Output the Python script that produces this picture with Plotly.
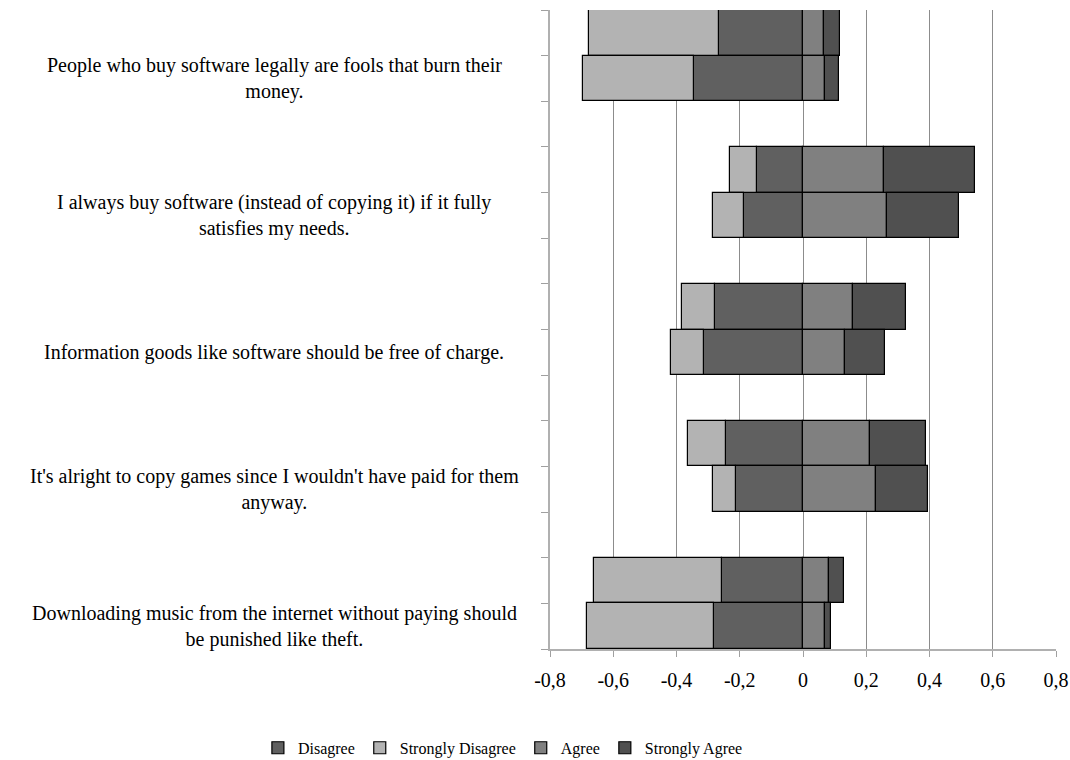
import plotly.graph_objects as go

# ---- data (top-to-bottom order of statements) ----
statements = [
    "People who buy software legally are fools that burn their<br>money.",
    "I always buy software (instead of copying it) if it fully<br>satisfies my needs.",
    "Information goods like software should be free of charge.",
    "It's alright to copy games since I wouldn't have paid for them<br>anyway.",
    "Downloading music from the internet without paying should<br>be punished like theft.",
]
series_names = ["Disagree", "Strongly Disagree", "Agree", "Strongly Agree"]

# upper bar of each pair
disagree_upper = [-0.266, -0.146, -0.277, -0.244, -0.255]
strongly_disagree_upper = [-0.410, -0.084, -0.105, -0.119, -0.406]
agree_upper = [0.065, 0.257, 0.158, 0.211, 0.082]
strongly_agree_upper = [0.053, 0.287, 0.168, 0.179, 0.047]

# lower (labelled) bar of each pair
disagree_lower = [-0.345, -0.186, -0.314, -0.213, -0.281]
strongly_disagree_lower = [-0.352, -0.100, -0.103, -0.073, -0.403]
agree_lower = [0.068, 0.266, 0.134, 0.231, 0.068]
strongly_agree_lower = [0.047, 0.226, 0.125, 0.165, 0.019]

x_tick_vals = [-0.8, -0.6, -0.4, -0.2, 0, 0.2, 0.4, 0.6, 0.8]
x_tick_text = ["-0,8", "-0,6", "-0,4", "-0,2", "0", "0,2", "0,4", "0,6", "0,8"]

colors = ["#606060", "#b3b3b3", "#808080", "#505050"]

# ---- category rows ----
upper_ids = [f"u{i}" for i in range(len(statements))]
lower_ids = [f"l{i}" for i in range(len(statements))]
rows_top_down = []
for i in range(len(statements)):
    rows_top_down += [upper_ids[i], lower_ids[i]]
    if i < len(statements) - 1:
        rows_top_down.append(f"g{i}")
category_array = list(reversed(rows_top_down))

upper_vals = [disagree_upper, strongly_disagree_upper, agree_upper, strongly_agree_upper]
lower_vals = [disagree_lower, strongly_disagree_lower, agree_lower, strongly_agree_lower]

fig = go.Figure()
for k, name in enumerate(series_names):
    fig.add_trace(go.Bar(
        name=name,
        orientation="h",
        y=upper_ids + lower_ids,
        x=upper_vals[k] + lower_vals[k],
        marker=dict(color=colors[k], line=dict(color="#000000", width=1.2)),
        hoverinfo="x+name",
    ))

font_family = "Liberation Serif, Times New Roman, serif"

annotations = []
for i, s in enumerate(statements):
    annotations.append(dict(
        text=s, xref="paper", yref="y", x=-0.545, y=lower_ids[i],
        xanchor="center", yanchor="middle", align="center", showarrow=False,
        font=dict(family=font_family, size=20, color="#000000"),
    ))

fig.update_layout(
    width=1070, height=760,
    margin=dict(l=550, r=14, t=10, b=111, autoexpand=False),
    barmode="relative", bargap=0,
    plot_bgcolor="#ffffff", paper_bgcolor="#ffffff",
    font=dict(family=font_family, size=20, color="#000000"),
    annotations=annotations,
    xaxis=dict(
        range=[-0.8, 0.8], tickmode="array", tickvals=x_tick_vals, ticktext=x_tick_text,
        showgrid=True, gridcolor="#8c8c8c", gridwidth=1, zeroline=False,
        showline=True, linecolor="#b0b0b0", linewidth=1.5,
        ticks="outside", ticklen=6, tickcolor="#a0a0a0", automargin=False,
        ticklabelstandoff=6,
        tickfont=dict(family=font_family, size=20, color="#000000"),
    ),
    yaxis=dict(
        type="category", categoryorder="array", categoryarray=category_array,
        range=[-0.5, len(category_array) - 0.5], automargin=False,
        showticklabels=False, tickson="boundaries", ticks="outside", ticklen=7,
        tickcolor="#a0a0a0", showgrid=False, zeroline=False,
        showline=True, linecolor="#b0b0b0", linewidth=1.5,
    ),
    legend=dict(
        orientation="h", xref="container", yref="container",
        x=0.47, xanchor="center", y=0.016, yanchor="middle",
        traceorder="normal", font=dict(family=font_family, size=16, color="#000000"),
        bgcolor="rgba(0,0,0,0)",
    ),
    showlegend=True,
)

fig.write_html("out.html")
